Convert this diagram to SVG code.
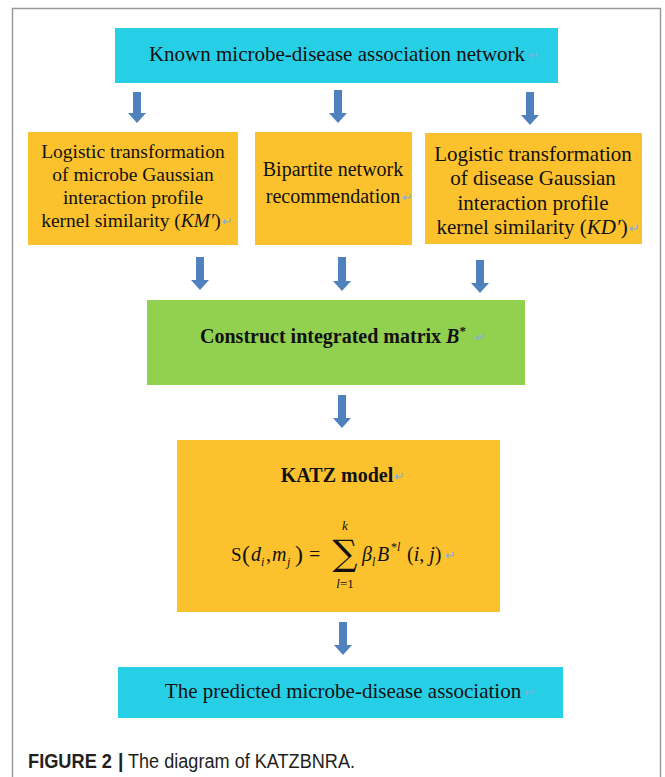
<svg xmlns="http://www.w3.org/2000/svg" width="665" height="777" viewBox="0 0 665 777">
<defs>
<style>
.cy{fill:#27CFE6}
.or{fill:#FBC22E}
.gr{fill:#92D050}
.t{font-family:"Liberation Serif","Times New Roman",serif;fill:#111;text-anchor:middle}
.b{font-weight:bold}
.m{font-family:"Liberation Serif","Times New Roman",serif;fill:#111}
.it{font-style:italic}
.ret{font-family:"DejaVu Sans",sans-serif;fill:#7FAEE0;font-size:13px}
.ar{fill:#4F81BD}
</style>
</defs>
<rect width="665" height="777" fill="#fff"/>
<path d="M12.5,777 V8.5 H660.5 V777" fill="none" stroke="#9a9a9a" stroke-width="1.5"/>

<g id="connectors">
<path class="ar" d="M133,92 h8 v21 h5 l-9,10 l-9,-10 h5 z"/>
<path class="ar" d="M334,90 h8 v23 h5 l-9,10 l-9,-10 h5 z"/>
<path class="ar" d="M526,92 h8 v23 h5 l-9,10 l-9,-10 h5 z"/>
<path class="ar" d="M196,257 h8 v23 h5 l-9,10 l-9,-10 h5 z"/>
<path class="ar" d="M338,257 h8 v24 h5 l-9,10 l-9,-10 h5 z"/>
<path class="ar" d="M476,260 h8 v23 h5 l-9,10 l-9,-10 h5 z"/>
<path class="ar" d="M338,395 h8 v23 h5 l-9,10 l-9,-10 h5 z"/>
<path class="ar" d="M339,622 h8 v23 h5 l-9,10 l-9,-10 h5 z"/>
</g>

<g id="known">
<rect class="cy" x="115" y="28" width="443" height="55"/>
<text class="t" x="337" y="61" font-size="21">Known microbe-disease association network</text>
<text class="ret" x="528" y="60">↵</text>
</g>

<g id="km">
<rect class="or" x="28" y="132" width="210" height="113"/>
<text class="t" font-size="19.5"><tspan x="133" y="158">Logistic transformation</tspan><tspan x="133" y="181">of microbe Gaussian</tspan><tspan x="133" y="204">interaction profile</tspan><tspan x="131" y="227">kernel similarity (<tspan class="it">KM′</tspan>)</tspan></text>
<text class="ret" x="222" y="226">↵</text>
</g>

<g id="bnr">
<rect class="or" x="255" y="132" width="157" height="113"/>
<text class="t" font-size="20"><tspan x="333" y="176">Bipartite network</tspan><tspan x="333" y="203">recommendation</tspan></text>
<text class="ret" x="402" y="202">↵</text>
</g>

<g id="kd">
<rect class="or" x="425" y="133" width="217" height="111"/>
<text class="t" font-size="21"><tspan x="533" y="161">Logistic transformation</tspan><tspan x="533" y="185">of disease Gaussian</tspan><tspan x="533" y="210">interaction profile</tspan><tspan x="532" y="234">kernel similarity (<tspan class="it">KD′</tspan>)</tspan></text>
<text class="ret" x="629" y="233">↵</text>
</g>

<g id="integrated">
<rect class="gr" x="147" y="300" width="378" height="85"/>
<text class="t b" font-size="20" x="333" y="343">Construct integrated matrix <tspan class="it">B</tspan><tspan font-size="13" dy="-8">*</tspan></text>
<text class="ret" x="475" y="342">↵</text>
</g>

<g id="katz">
<rect class="or" x="177" y="440" width="323" height="172"/>
<text class="t b" font-size="20" x="337" y="482">KATZ model</text>
<text class="ret" x="394" y="481">↵</text>
<g class="m">
<text x="231" y="561" font-size="19">S</text>
<text x="242" y="562" font-size="24">(</text>
<text x="251" y="561" font-size="20" class="it">d</text>
<text x="261" y="566" font-size="12" class="it">i</text>
<text x="266" y="561" font-size="20">,</text>
<text x="272" y="561" font-size="20" class="it">m</text>
<text x="287" y="566" font-size="12" class="it">j</text>
<text x="295" y="562" font-size="24">)</text>
<text x="309" y="561" font-size="20">=</text>
<text x="345" y="565" font-size="35" text-anchor="middle" font-family="DejaVu Serif,serif">∑</text>
<text x="345" y="530" font-size="13" class="it" text-anchor="middle">k</text>
<text x="345" y="588" font-size="13" text-anchor="middle"><tspan class="it">l</tspan>=1</text>
<text x="362" y="561" font-size="20" class="it">β</text>
<text x="372" y="566" font-size="12" class="it">l</text>
<text x="377" y="561" font-size="20" class="it">B</text>
<text x="391" y="551" font-size="12">*<tspan class="it">l</tspan></text>
<text x="407" y="561" font-size="20">(<tspan class="it">i</tspan>, <tspan class="it">j</tspan>)</text>
</g>
<text class="ret" x="445" y="560">↵</text>
</g>

<g id="predicted">
<rect class="cy" x="118" y="667" width="445" height="51"/>
<text class="t" x="343" y="698" font-size="21">The predicted microbe-disease association</text>
<text class="ret" x="524" y="697">↵</text>
</g>

<g id="caption" font-family="'Liberation Sans',Arial,sans-serif" fill="#231f20" font-size="19.5">
<text x="28" y="768" font-weight="bold" textLength="84" lengthAdjust="spacingAndGlyphs">FIGURE 2</text>
<text x="118" y="768" font-weight="bold">|</text>
<text x="128" y="768" textLength="227" lengthAdjust="spacingAndGlyphs">The diagram of KATZBNRA.</text>
</g>
</svg>
